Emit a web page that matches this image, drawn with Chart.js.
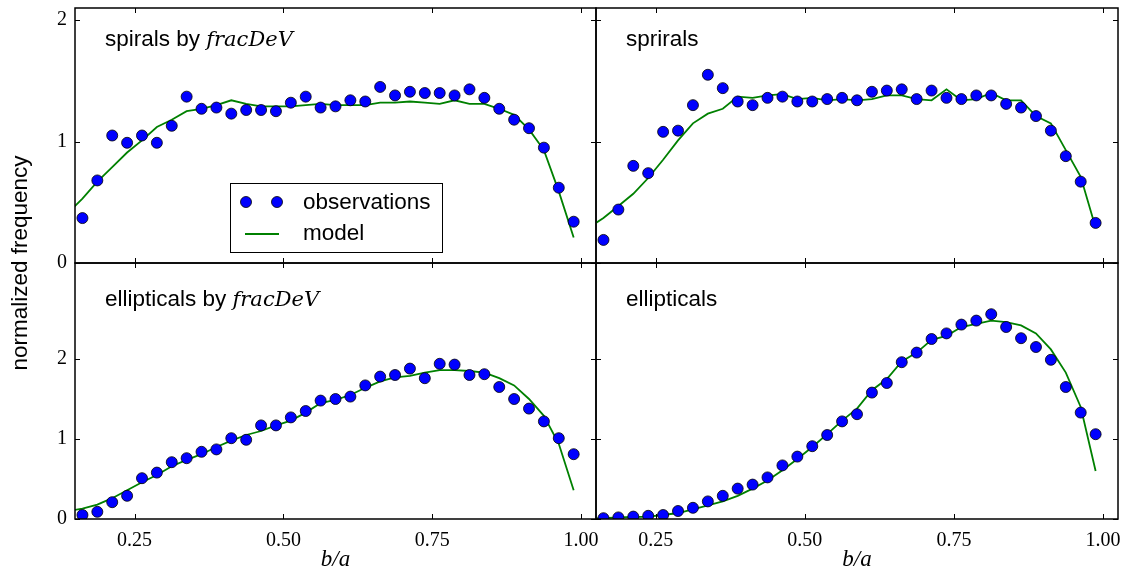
<!DOCTYPE html>
<html>
<head>
<meta charset="utf-8">
<script src="https://cdn.jsdelivr.net/npm/chart.js@4.4.1/dist/chart.umd.min.js"></script>
<style>
    html, body { margin: 0; padding: 0; background: #ffffff; }
    #wrap { position: relative; width: 1125px; height: 569px; background: #ffffff; }
    #wrap canvas { position: absolute; left: 0; top: 0; }
</style>
</head>
<body>
<div id="wrap">
    <canvas id="panelTL" width="1125" height="569"></canvas>
    <canvas id="panelTR" width="1125" height="569"></canvas>
    <canvas id="panelBL" width="1125" height="569"></canvas>
    <canvas id="panelBR" width="1125" height="569"></canvas>
</div>
<script>
// b/a のビン中心
const binCenters = [
    0.1625, 0.1875, 0.2125, 0.2375, 0.2625, 0.2875, 0.3125, 0.3375, 0.3625, 0.3875,
    0.4125, 0.4375, 0.4625, 0.4875, 0.5125, 0.5375, 0.5625, 0.5875, 0.6125, 0.6375,
    0.6625, 0.6875, 0.7125, 0.7375, 0.7625, 0.7875, 0.8125, 0.8375, 0.8625, 0.8875,
    0.9125, 0.9375, 0.9625, 0.9875,
];
// モデル曲線は左端の外側から描く
const modelX = [0.1375, ...binCenters];

const xTicks = [0.25, 0.5, 0.75, 1.0];
const yTicks = [0, 1, 2];

// spirals by fracDeV
const spiralsFracObs = [
    0.37, 0.68, 1.05, 0.99, 1.05, 0.99, 1.13, 1.37, 1.27, 1.28, 1.23, 1.26, 1.26, 1.25, 1.32, 1.37, 1.28,
    1.29, 1.34, 1.33, 1.45, 1.38, 1.41, 1.40, 1.40, 1.38, 1.43, 1.36, 1.27, 1.18, 1.11, 0.95, 0.62, 0.34,
];
const spiralsFracModel = [
    0.41,
    0.53, 0.67, 0.79, 0.91, 1.01, 1.12, 1.18, 1.25, 1.27, 1.30, 1.34, 1.31, 1.29, 1.29, 1.29, 1.30, 1.31,
    1.30, 1.30, 1.30, 1.32, 1.32, 1.33, 1.32, 1.31, 1.34, 1.31, 1.31, 1.27, 1.22, 1.10, 0.93, 0.59, 0.21,
];

// sprirals
const spiralsObs = [
    0.19, 0.44, 0.80, 0.74, 1.08, 1.09, 1.30, 1.55, 1.44, 1.33, 1.30, 1.36, 1.37, 1.33, 1.33, 1.35, 1.36,
    1.34, 1.41, 1.42, 1.43, 1.35, 1.42, 1.36, 1.35, 1.38, 1.38, 1.31, 1.28, 1.21, 1.09, 0.88, 0.67, 0.33,
];
const spiralsModel = [
    0.29,
    0.37, 0.47, 0.57, 0.70, 0.85, 1.01, 1.15, 1.23, 1.27, 1.37, 1.36, 1.38, 1.39, 1.35, 1.36, 1.34, 1.35,
    1.34, 1.35, 1.38, 1.38, 1.35, 1.34, 1.43, 1.34, 1.35, 1.40, 1.34, 1.34, 1.21, 1.15, 0.93, 0.71, 0.29,
];

// ellipticals by fracDeV
const ellipFracObs = [
    0.05, 0.09, 0.21, 0.29, 0.51, 0.58, 0.71, 0.76, 0.84, 0.87, 1.01, 0.99, 1.17, 1.17, 1.27, 1.35, 1.48,
    1.50, 1.53, 1.67, 1.78, 1.80, 1.88, 1.76, 1.94, 1.93, 1.80, 1.81, 1.65, 1.50, 1.38, 1.22, 1.01, 0.81,
];
const ellipFracModel = [
    0.10,
    0.13, 0.18, 0.26, 0.36, 0.46, 0.55, 0.66, 0.74, 0.81, 0.90, 0.98, 1.05, 1.10, 1.17, 1.23, 1.33, 1.45,
    1.49, 1.55, 1.64, 1.72, 1.77, 1.79, 1.83, 1.86, 1.86, 1.85, 1.83, 1.76, 1.67, 1.50, 1.29, 0.94, 0.36,
];

// ellipticals
const ellipObs = [
    0.01, 0.02, 0.03, 0.04, 0.05, 0.10, 0.14, 0.22, 0.29, 0.38, 0.43, 0.52, 0.67, 0.78, 0.91, 1.05, 1.22,
    1.31, 1.58, 1.70, 1.96, 2.08, 2.25, 2.32, 2.43, 2.48, 2.56, 2.40, 2.26, 2.15, 1.99, 1.65, 1.33, 1.06,
];
const ellipModel = [
    0.005,
    0.01, 0.02, 0.025, 0.03, 0.05, 0.075, 0.12, 0.17, 0.22, 0.29, 0.38, 0.48, 0.61, 0.75, 0.90, 1.06, 1.23,
    1.38, 1.61, 1.75, 1.97, 2.08, 2.24, 2.29, 2.40, 2.44, 2.48, 2.46, 2.42, 2.32, 2.12, 1.83, 1.40, 0.60,
];

const SANS = "'Liberation Sans', Arial, sans-serif";
const SERIF = "'Liberation Serif', 'DejaVu Serif', serif";
const MATH = "italic 21px 'DejaVu Serif', serif";
const SANS_SIZE = 22.5;

/**
 * 枠線・内向きの目盛り・パネル内テキスト・凡例を描くプラグイン
 */
const panelDecor = {
    id: 'panelDecor',
    afterDraw(chart, args, opts) {
        const { ctx, chartArea: a } = chart;
        const xs = chart.scales.x;
        const ys = chart.scales.y;
        ctx.save();

        // 内向きの目盛り（四辺）
        ctx.strokeStyle = '#000000';
        ctx.lineWidth = 1;
        ctx.beginPath();
        xs.ticks.forEach((t) => {
            const px = Math.round(xs.getPixelForValue(t.value)) + 0.5;
            ctx.moveTo(px, a.bottom);
            ctx.lineTo(px, a.bottom - 5);
            ctx.moveTo(px, a.top);
            ctx.lineTo(px, a.top + 5);
        });
        ys.ticks.forEach((t) => {
            const py = Math.round(ys.getPixelForValue(t.value)) + 0.5;
            ctx.moveTo(a.left, py);
            ctx.lineTo(a.left + 5, py);
            ctx.moveTo(a.right, py);
            ctx.lineTo(a.right - 5, py);
        });
        ctx.stroke();

        // 枠線
        ctx.lineWidth = 1.5;
        ctx.strokeRect(a.left, a.top, a.right - a.left, a.bottom - a.top);

        // パネル名（サンセリフ＋数式イタリック）
        ctx.fillStyle = '#000000';
        ctx.textBaseline = 'alphabetic';
        ctx.textAlign = 'left';
        let tx = a.left + 30;
        const ty = a.top + opts.labelDy;
        ctx.font = `${SANS_SIZE}px ${SANS}`;
        ctx.fillText(opts.label, tx, ty);
        if (opts.math) {
            tx += ctx.measureText(opts.label + ' ').width;
            ctx.font = MATH;
            ctx.fillText(opts.math, tx, ty);
        }

        // 凡例
        if (opts.legend) {
            const lx = a.left + 155;
            const ly = a.top + 175;
            ctx.fillStyle = '#ffffff';
            ctx.fillRect(lx, ly, 212, 69);
            ctx.strokeStyle = '#000000';
            ctx.lineWidth = 1;
            ctx.strokeRect(lx + 0.5, ly + 0.5, 212, 69);

            const obs = chart.data.datasets[0];
            [lx + 16, lx + 47].forEach((cx) => {
                ctx.beginPath();
                ctx.arc(cx, ly + 19, obs.pointRadius, 0, Math.PI * 2);
                ctx.fillStyle = obs.backgroundColor;
                ctx.fill();
                ctx.lineWidth = obs.borderWidth;
                ctx.strokeStyle = obs.borderColor;
                ctx.stroke();
            });
            const mod = chart.data.datasets[1];
            ctx.beginPath();
            ctx.moveTo(lx + 15, ly + 51);
            ctx.lineTo(lx + 49, ly + 51);
            ctx.strokeStyle = mod.borderColor;
            ctx.lineWidth = mod.borderWidth;
            ctx.stroke();

            ctx.fillStyle = '#000000';
            ctx.font = `${SANS_SIZE}px ${SANS}`;
            ctx.textBaseline = 'middle';
            ctx.fillText(obs.label, lx + 73, ly + 20);
            ctx.fillText(mod.label, lx + 73, ly + 51);
        }

        // 軸タイトル
        if (opts.xTitle) {
            ctx.fillStyle = '#000000';
            ctx.font = `italic 23px ${SERIF}`;
            ctx.textAlign = 'center';
            ctx.textBaseline = 'middle';
            ctx.fillText('b/a', (a.left + a.right) / 2, 560);
        }
        if (opts.yTitle) {
            ctx.translate(21, 263);
            ctx.rotate(-Math.PI / 2);
            ctx.fillStyle = '#000000';
            ctx.font = `${SANS_SIZE}px ${SANS}`;
            ctx.textAlign = 'center';
            ctx.textBaseline = 'middle';
            ctx.fillText('normalized frequency', 0, 0);
        }
        ctx.restore();
    },
};

// ラベルのはみ出しによる描画領域のずれを止める
function noScalePadding(scale) {
    scale.paddingTop = 0;
    scale.paddingBottom = 0;
    scale.paddingLeft = 0;
    scale.paddingRight = 0;
}

/**
 * 1パネル分のグラフを作る
 */
function drawPanel(canvasId, obsValues, modelValues, p) {
    const obsData = binCenters.map((x, i) => ({ x: x, y: obsValues[i] }));
    const modelData = modelX.map((x, i) => ({ x: x, y: modelValues[i] }));

    return new Chart(document.getElementById(canvasId), {
        type: 'scatter',
        data: {
            datasets: [
                {
                    label: 'observations',
                    data: obsData,
                    pointRadius: 5.5,
                    pointHoverRadius: 5.5,
                    backgroundColor: '#0000ff',
                    borderColor: '#000000',
                    borderWidth: 0.8,
                    clip: 0,
                },
                {
                    label: 'model',
                    data: modelData,
                    showLine: true,
                    pointRadius: 0,
                    borderColor: '#008000',
                    backgroundColor: '#008000',
                    borderWidth: 1.8,
                    tension: 0,
                    clip: 0,
                },
            ],
        },
        options: {
            responsive: false,
            animation: false,
            events: [],
            layout: { padding: p.padding },
            scales: {
                x: {
                    type: 'linear',
                    min: 0.15,
                    max: 1.025,
                    grid: { display: false, drawTicks: false },
                    border: { display: false },
                    afterBuildTicks: (scale) => {
                        scale.ticks = xTicks.map((v) => ({ value: v }));
                    },
                    afterFit: (scale) => {
                        scale.height = p.xHeight;
                        noScalePadding(scale);
                    },
                    ticks: {
                        display: p.xLabels,
                        padding: 10,
                        maxRotation: 0,
                        color: '#000000',
                        font: { family: SERIF, size: 20 },
                        callback: (v) => Number(v).toFixed(2),
                    },
                },
                y: {
                    type: 'linear',
                    min: 0,
                    max: p.yMax,
                    grid: { display: false, drawTicks: false },
                    border: { display: false },
                    afterBuildTicks: (scale) => {
                        scale.ticks = yTicks.map((v) => ({ value: v }));
                    },
                    afterFit: (scale) => {
                        scale.width = p.yWidth;
                        noScalePadding(scale);
                    },
                    ticks: {
                        display: p.yLabels,
                        padding: 8,
                        color: '#000000',
                        font: { family: SERIF, size: 20 },
                        callback: (v) => String(v),
                    },
                },
            },
            plugins: {
                legend: { display: false },
                tooltip: { enabled: false },
                panelDecor: p.decor,
            },
        },
        plugins: [panelDecor],
    });
}

// 左上: 75..596 x 8..263
drawPanel('panelTL', spiralsFracObs, spiralsFracModel, {
    padding: { left: 25, right: 529, top: 8, bottom: 306 },
    xHeight: 0, yWidth: 50, xLabels: false, yLabels: true, yMax: 2.1,
    decor: { label: 'spirals by', math: 'fracDeV', labelDy: 38, legend: true, yTitle: true },
});
// 右上: 596..1118 x 8..263
drawPanel('panelTR', spiralsObs, spiralsModel, {
    padding: { left: 596, right: 7, top: 8, bottom: 306 },
    xHeight: 0, yWidth: 0, xLabels: false, yLabels: false, yMax: 2.1,
    decor: { label: 'sprirals', labelDy: 38 },
});
// 左下: 75..596 x 263..519
drawPanel('panelBL', ellipFracObs, ellipFracModel, {
    padding: { left: 25, right: 529, top: 263, bottom: 10 },
    xHeight: 40, yWidth: 50, xLabels: true, yLabels: true, yMax: 3.2,
    decor: { label: 'ellipticals by', math: 'fracDeV', labelDy: 43, xTitle: true },
});
// 右下: 596..1118 x 263..519
drawPanel('panelBR', ellipObs, ellipModel, {
    padding: { left: 596, right: 7, top: 263, bottom: 10 },
    xHeight: 40, yWidth: 0, xLabels: true, yLabels: false, yMax: 3.2,
    decor: { label: 'ellipticals', labelDy: 43, xTitle: true },
});
</script>
</body>
</html>
